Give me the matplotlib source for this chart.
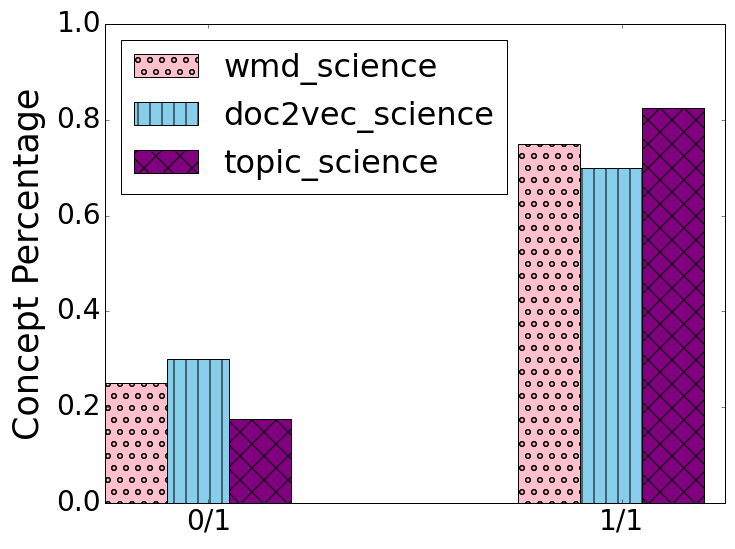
import matplotlib
matplotlib.use('Agg')
import matplotlib.pyplot as plt
import numpy as np

plt.style.use('classic')

# Data
groups = ['0/1', '1/1']
series = ['wmd_science', 'doc2vec_science', 'topic_science']
wmd_science = [0.25, 0.75]
doc2vec_science = [0.30, 0.70]
topic_science = [0.175, 0.825]

colors = ['pink', 'skyblue', 'purple']
hatches = ['o', '|', 'x']

ind = np.arange(len(groups))
width = 0.15

fig = plt.figure(figsize=(735 / 72, 549 / 72), dpi=72)
ax = fig.add_axes([105 / 735, 1 - 503 / 549, 620 / 735, 479 / 549])

for i, vals in enumerate([wmd_science, doc2vec_science, topic_science]):
    ax.bar(ind + i * width, vals, width, align='edge', color=colors[i],
           edgecolor='black', hatch=hatches[i], label=series[i])

ax.set_xlim(0, 1.5)
ax.set_ylim(0, 1.0)
ax.set_xticks(ind + 0.25)
ax.set_xticklabels(groups)
ax.tick_params(labelsize=28)
ax.set_ylabel('Concept Percentage', fontsize=35, labelpad=10)
ax.legend(loc='upper left', fontsize=32)

fig.savefig('out.png', dpi=72)
